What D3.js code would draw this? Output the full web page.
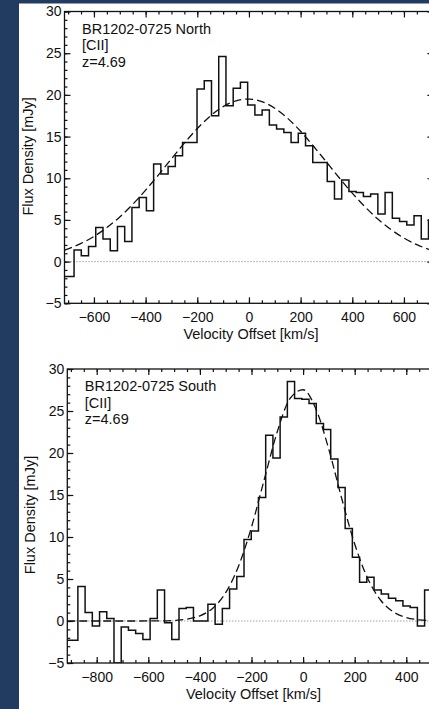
<!DOCTYPE html>
<html>
<head>
<meta charset="utf-8">
<script src="https://cdnjs.cloudflare.com/ajax/libs/d3/7.8.5/d3.min.js"></script>
<style>
html, body { margin: 0; padding: 0; background: #213b61; overflow: hidden; }
svg { display: block; }
text { font-family: "Liberation Sans", Arial, Helvetica, sans-serif; fill: #111; }
</style>
</head>
<body>
<svg id="chart"></svg>
<script>
// ALMA channel width, km/s
var channelWidth = 28;

// North component: channel centres (km/s) and flux (mJy)
var northVelocity = [-691, -663, -635, -607, -579, -551, -523, -495, -467, -439,
                     -411, -383, -355, -327, -299, -271, -243, -215, -187, -159,
                     -131, -103, -75, -47, -19, 9, 37, 65, 93, 121,
                     149, 177, 205, 233, 261, 289, 317, 345, 373, 401,
                     429, 457, 485, 513, 541, 569, 597, 625, 653, 681, 709];
var northFlux = [-1.8, 1.4, 0.7, 1.8, 4.1, 2.7, 1.3, 4.2, 2.4, 6.5,
                 7.7, 6.1, 11.7, 10.5, 11.4, 12.7, 14.3, 14.3, 20.7, 21.7,
                 17.5, 24.6, 18.7, 20.8, 21.5, 18.8, 17.6, 18.2, 16.4, 15.9,
                 15.5, 14.3, 15.4, 13.9, 11.9, 11.9, 9.6, 7.5, 9.8, 8.4,
                 8.3, 7.8, 8.1, 5.7, 8.3, 5.2, 4.8, 4.4, 5.5, 2.7, 5.0];
// dashed fit
var northFitVelocity = [-714, -650, -600, -550, -500, -450, -400, -350, -300, -250,
                        -200, -150, -100, -50, 0, 50, 100, 150, 200, 250,
                        300, 350, 400, 450, 500, 550, 600, 650, 714];
var northFitFlux = [1.38, 2.18, 3.02, 4.08, 5.36, 6.87, 8.57, 10.41, 12.33, 14.21,
                    15.96, 17.45, 18.59, 19.29, 19.50, 19.19, 18.40, 17.18, 15.63, 13.84,
                    11.94, 10.03, 8.21, 6.55, 5.08, 3.84, 2.83, 2.03, 1.28];

// South component
var southVelocity = [-887, -859, -831, -803, -775, -747, -719, -691, -663, -635,
                     -607, -579, -551, -523, -495, -467, -439, -411, -383, -355,
                     -327, -299, -271, -243, -215, -187, -159, -131, -103, -75,
                     -47, -19, 9, 37, 65, 93, 121, 149, 177, 205,
                     233, 261, 289, 317, 345, 373, 401, 429, 457, 485];
var southFlux = [-2.3, 4.1, 1.0, -0.6, 1.1, 0.3, -5.0, -0.7, -1.1, -1.5,
                 -2.2, 0.3, 3.7, -0.2, -2.2, 1.5, 1.6, 0.0, 0.0, 2.0,
                 -0.4, 1.5, 3.8, 5.3, 9.7, 10.7, 14.7, 22.1, 19.4, 24.3,
                 28.5, 26.5, 26.4, 25.9, 23.5, 22.8, 19.3, 15.9, 11.0, 7.6,
                 4.6, 5.2, 3.7, 3.2, 2.7, 2.4, 1.8, 1.6, -0.6, 3.7];
var southFitVelocity = [-914, -700, -550, -500, -450, -400, -350, -300, -250, -200,
                        -150, -100, -50, 0, 50, 100, 150, 200, 250, 300,
                        350, 400, 450, 514];
var southFitFlux = [0, 0, 0.01, 0.07, 0.22, 0.62, 1.53, 3.37, 6.54, 11.19,
                    16.91, 22.54, 26.52, 27.53, 25.22, 20.40, 14.55, 9.16, 5.09, 2.50,
                    1.08, 0.41, 0.14, 0.03];

var fluxTicks = [-5, 0, 5, 10, 15, 20, 25, 30];
var northVelTicks = [-600, -400, -200, 0, 200, 400, 600];
var southVelTicks = [-800, -600, -400, -200, 0, 200, 400];
var northLabels = ["BR1202-0725 North", "[CII]", "z=4.69"];
var southLabels = ["BR1202-0725 South", "[CII]", "z=4.69"];

var width = 429,
    height = 709;

var svg = d3.select("#chart")
    .attr("width", width)
    .attr("height", height);

svg.append("rect")
    .attr("x", 19).attr("y", 3.5)
    .attr("width", width - 19).attr("height", height)
    .attr("fill", "#fff");

function drawPanel(p) {

    var x = d3.scaleLinear().domain(p.xDomain).range([p.left, p.right]);
    var y = d3.scaleLinear().domain([-5, 30]).range([p.bottom, p.top]);

    var g = svg.append("g");

    svg.append("clipPath").attr("id", "clip-" + p.name)
        .append("rect")
        .attr("x", p.left).attr("y", p.top)
        .attr("width", p.right - p.left).attr("height", p.bottom - p.top);

    // zero level
    g.append("line")
        .attr("x1", p.left).attr("x2", p.right)
        .attr("y1", y(0)).attr("y2", y(0))
        .attr("stroke", "#7a7a7a")
        .attr("stroke-width", 1)
        .attr("stroke-dasharray", "1,2");

    // histogram steps (one flat segment per channel)
    var steps = [];
    p.velocity.forEach(function(v, i) {
        steps.push([v - channelWidth / 2, p.flux[i]]);
        steps.push([v + channelWidth / 2, p.flux[i]]);
    });
    steps[0][0] = p.xDomain[0];

    g.append("path")
        .datum(steps)
        .attr("clip-path", "url(#clip-" + p.name + ")")
        .attr("d", d3.line().x(function(d) { return x(d[0]); }).y(function(d) { return y(d[1]); }))
        .attr("fill", "none")
        .attr("stroke", "#111")
        .attr("stroke-width", 1.5);

    // gaussian fit
    g.append("path")
        .datum(p.fitFlux)
        .attr("clip-path", "url(#clip-" + p.name + ")")
        .attr("d", d3.line()
            .x(function(d, i) { return x(p.fitVelocity[i]); })
            .y(function(d) { return y(d); })
            .curve(d3.curveMonotoneX))
        .attr("fill", "none")
        .attr("stroke", "#111")
        .attr("stroke-width", 1.3)
        .attr("stroke-dasharray", "8,4");

    // axes, ticks pointing inward
    var minorX = d3.range(Math.ceil(p.xDomain[0] / 50) * 50, p.xDomain[1], 50);
    var minorY = y.ticks(35);

    function axis(gen, tx, ty, values, size, labels) {
        var a = gen.tickValues(values).tickSize(-size).tickSizeOuter(0);
        if (!labels) a.tickFormat("");
        var ag = g.append("g")
            .attr("transform", "translate(" + tx + "," + ty + ")")
            .call(a);
        ag.select(".domain").remove();
        ag.selectAll("line").attr("stroke", "#111").attr("stroke-width", 1.2);
        ag.selectAll("text").style("font-size", "14px").attr("fill", "#111");
        return ag;
    }

    axis(d3.axisBottom(x), 0, p.bottom, minorX, 3, false);
    axis(d3.axisTop(x), 0, p.top, minorX, 3, false);
    axis(d3.axisBottom(x).tickPadding(9), 0, p.bottom, p.xTicks, 6, true);
    axis(d3.axisTop(x), 0, p.top, p.xTicks, 6, false);
    axis(d3.axisLeft(y), p.left, 0, minorY, 3, false);
    axis(d3.axisRight(y), p.right, 0, minorY, 3, false);
    axis(d3.axisLeft(y).tickPadding(3), p.left, 0, fluxTicks, 6, true);
    axis(d3.axisRight(y), p.right, 0, fluxTicks, 6, false);

    g.append("rect")
        .attr("x", p.left).attr("y", p.top)
        .attr("width", p.right - p.left).attr("height", p.bottom - p.top)
        .attr("fill", "none")
        .attr("stroke", "#111")
        .attr("stroke-width", 1.3);

    g.append("text")
        .attr("x", (p.left + p.right) / 2 + 2)
        .attr("y", p.bottom + 35.5)
        .attr("text-anchor", "middle")
        .style("font-size", "14.5px")
        .text("Velocity Offset [km/s]");

    g.append("text")
        .attr("transform", "translate(" + (p.left - 32) + "," + ((p.top + p.bottom) / 2 - 1) + ") rotate(-90)")
        .attr("text-anchor", "middle")
        .style("font-size", "14.5px")
        .text("Flux Density [mJy]");

    g.selectAll(".label")
        .data(p.labels)
        .enter()
        .append("text")
        .attr("class", "label")
        .attr("x", p.left + 17.5)
        .attr("y", function(d, i) { return p.top + 22 + i * 16.7; })
        .style("font-size", "14.5px")
        .text(function(d) { return d; });
}

drawPanel({
    name: "north",
    left: 64.5, right: 433.4, top: 11.5, bottom: 303.3,
    xDomain: [-714, 714],
    xTicks: northVelTicks,
    velocity: northVelocity, flux: northFlux,
    fitVelocity: northFitVelocity, fitFlux: northFitFlux,
    labels: northLabels
});

drawPanel({
    name: "south",
    left: 67.3, right: 435.7, top: 369, bottom: 663,
    xDomain: [-914, 514],
    xTicks: southVelTicks,
    velocity: southVelocity, flux: southFlux,
    fitVelocity: southFitVelocity, fitFlux: southFitFlux,
    labels: southLabels
});
</script>
</body>
</html>
